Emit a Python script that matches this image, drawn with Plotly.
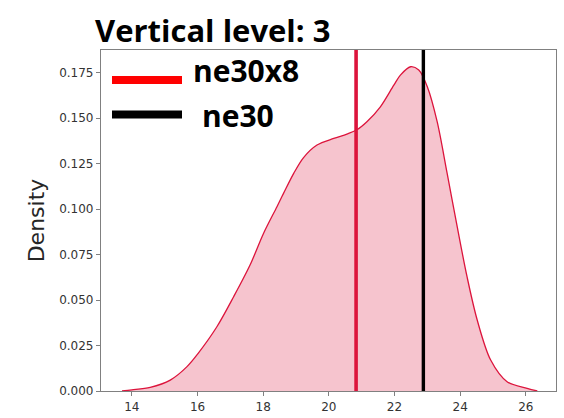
import plotly.graph_objects as go

# ---- data ----
kde_x = [13.7, 14.0, 14.56, 15.17, 15.68, 16.02, 16.59, 17.1, 17.6, 18.01, 18.42,
         18.62, 18.93, 19.23, 19.64, 20.15, 20.55, 20.84, 21.16, 21.57, 21.98,
         22.18, 22.49, 22.74, 23.0, 23.3, 23.6, 23.91, 24.21, 24.52, 24.93,
         25.43, 26.04, 26.35]
kde_y = [0.0, 0.0006, 0.002, 0.006, 0.0134, 0.0207, 0.0353, 0.0518, 0.0692, 0.0866,
         0.1013, 0.1086, 0.1196, 0.1283, 0.1352, 0.1388, 0.1412, 0.1434, 0.148,
         0.1562, 0.1681, 0.1736, 0.1782, 0.1764, 0.1672, 0.148, 0.12, 0.0903,
         0.0628, 0.039, 0.017, 0.0051, 0.0015, 0.0]
ne30x8_value = 20.83
ne30_value = 22.88
x_ticks = [14, 16, 18, 20, 22, 24, 26]
y_ticks = [0.0, 0.025, 0.05, 0.075, 0.1, 0.125, 0.15, 0.175]
y_tick_labels = ["0.000", "0.025", "0.050", "0.075", "0.100", "0.125", "0.150", "0.175"]
legend_names = ["ne30x8", " ne30"]
legend_colors = ["#ff0000", "#000000"]
title_text = "Vertical level: 3"

W, H = 564, 418
L, R, T, B = 101, 556, 50, 391


def px(xp):
    return (xp - L) / (R - L)


def py(yp):
    return (B - yp) / (B - T)


fig = go.Figure()
fig.add_trace(go.Scatter(
    x=kde_x, y=kde_y, mode="lines", line=dict(color="#dc143c", width=1.3, shape="spline", smoothing=0.9),
    fill="tozeroy", fillcolor="rgba(220,20,60,0.25)", showlegend=False, hoverinfo="skip"))

fig.add_vline(x=ne30x8_value, line=dict(color="#dc143c", width=3.6))
fig.add_vline(x=ne30_value, line=dict(color="#000000", width=3.4))

# manual legend
leg_y = [80, 114.5]
text_y = [71, 115]
text_x = [193, 202]
for name, col, ly, ty, tx in zip(legend_names, legend_colors, leg_y, text_y, text_x):
    fig.add_shape(type="line", xref="paper", yref="paper", x0=px(112), x1=px(182),
                  y0=py(ly), y1=py(ly), line=dict(color=col, width=8))
    fig.add_annotation(xref="paper", yref="paper", x=px(tx), y=py(ty), xanchor="left",
                       yanchor="middle", text="<b>%s</b>" % name.strip(), showarrow=False,
                       xshift=-2, font=dict(family="Open Sans", size=30, color="#000000"))

axis_common = dict(showline=True, linecolor="#808080", linewidth=1.2, mirror=True,
                   ticks="outside", ticklen=4, tickcolor="#808080", tickwidth=1.2,
                   showgrid=False, zeroline=False, automargin=False,
                   tickfont=dict(family="DejaVu Sans", size=12, color="#333333"))

fig.update_layout(
    width=W, height=H,
    margin=dict(l=L, r=W - R, t=T, b=H - B),
    paper_bgcolor="white", plot_bgcolor="white",
    title=dict(text="<b>%s</b>" % title_text, xref="container", yref="container",
               x=95 / W, xanchor="left", y=1 - 31 / H, yanchor="middle",
               font=dict(family="Open Sans", size=31, color="#000000")),
    xaxis=dict(range=[13.06, 26.92], tickvals=x_ticks, **axis_common),
    yaxis=dict(range=[0, 0.1874], tickvals=y_ticks, ticktext=y_tick_labels,
               title=dict(text="Density", font=dict(family="DejaVu Sans", size=22, color="#262626"),
                          standoff=8),
               **axis_common),
)

fig.write_html("out.html", config={"displayModeBar": False},
               post_script="document.body.style.margin='0';")
